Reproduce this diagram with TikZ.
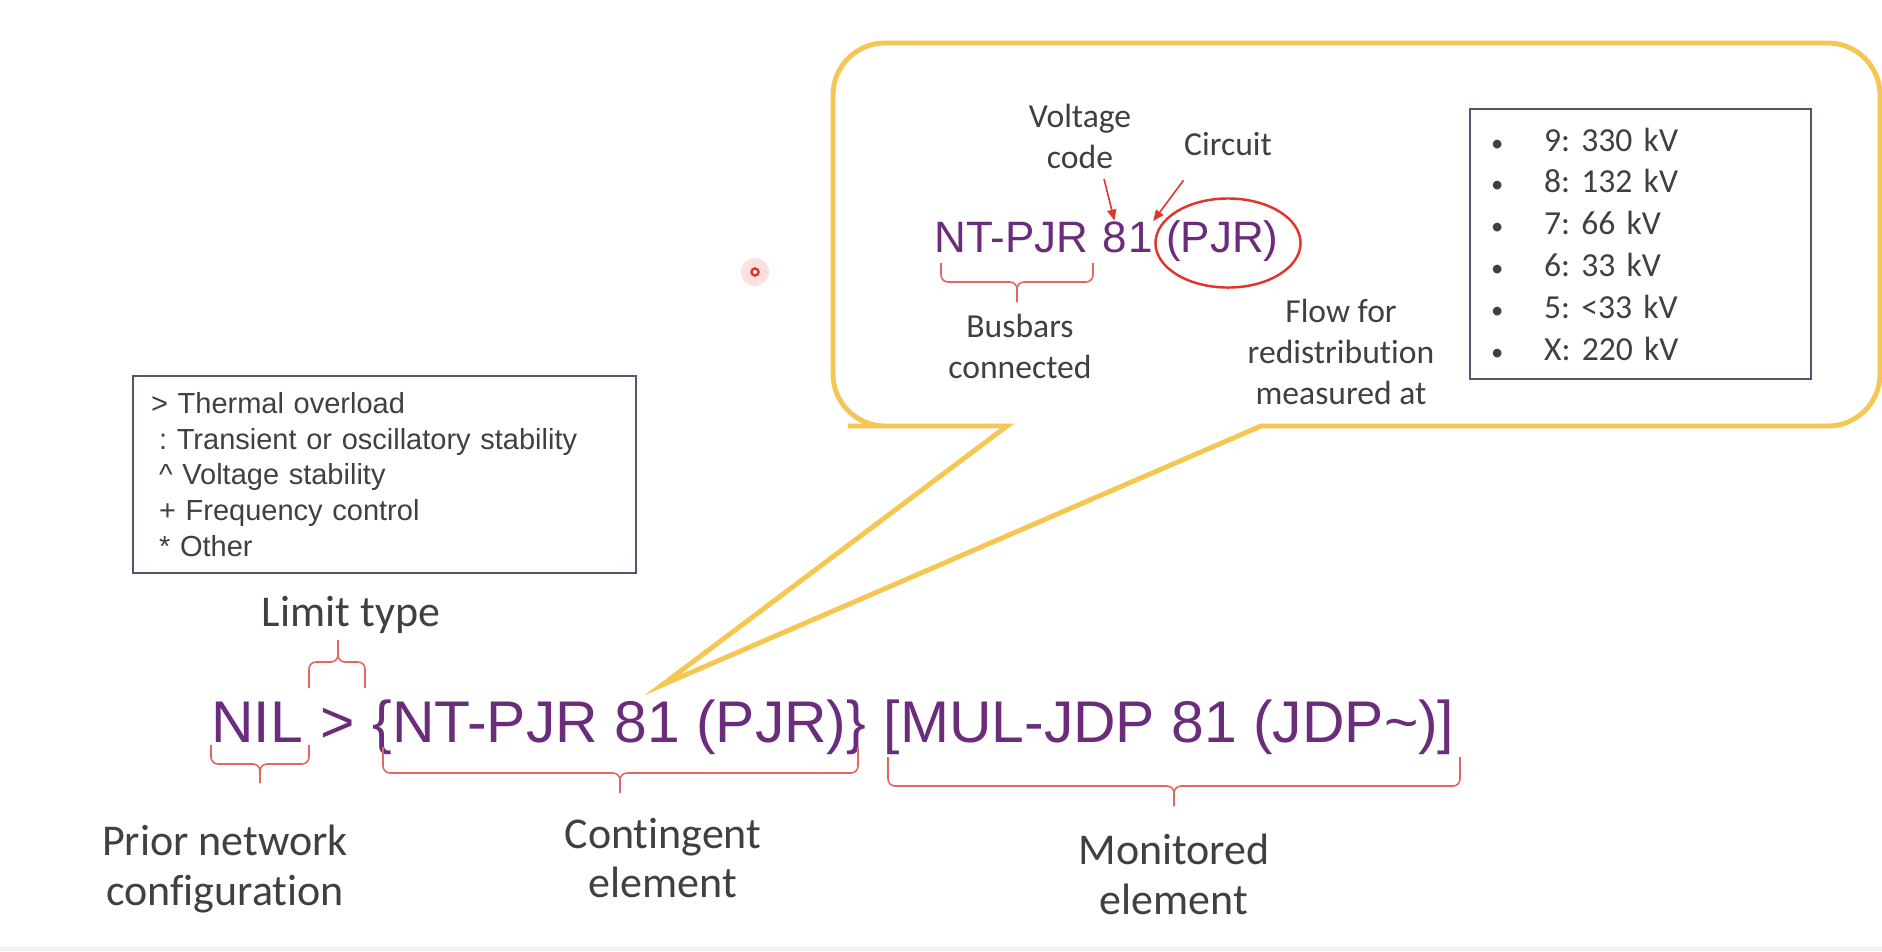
\documentclass[tikz,border=0pt]{standalone}
\usepackage{fontspec}
\setmainfont{Carlito}[Ligatures={NoCommon}]
\newfontfamily\arialfont{Liberation Sans}
\usetikzlibrary{arrows.meta,positioning,calc,shapes.geometric}
\definecolor{plum}{HTML}{6B2D7B}
\definecolor{ink}{HTML}{404040}
\definecolor{gold}{HTML}{F6C652}
\definecolor{salmon}{HTML}{E2665F}
\definecolor{alert}{HTML}{E3342B}
\definecolor{frame}{HTML}{5E5070}
\tikzset{codetext/.style={inner sep=0pt,text=plum,font=\arialfont\fontsize{12.5}{15}\selectfont},
  formtext/.style={inner sep=0pt,text=plum,font=\arialfont\fontsize{16.73}{20}\selectfont},
  smalltag/.style={inner sep=0pt,text=ink,align=center,font=\fontsize{9.56}{11.67}\selectfont},
  bigtag/.style={inner sep=0pt,text=ink,align=center,font=\fontsize{12.5}{14.2}\selectfont},
  listbox/.style={draw=frame,line width=0.6pt,inner ysep=0pt,align=left,text=ink,anchor=north west},
  pointer/.style={-{Triangle[length=1.1mm,width=0.9mm]},draw=alert,line width=0.45pt},
  bracestroke/.style={draw=salmon,line width=0.45pt,rounded corners=0.7mm}}
% x1, xtip, x2, yend, yflat, ytip
\newcommand{\curly}[6]{%
  \draw[bracestroke] (#1,#4) |- (#2,#5) -- (#2,#6);
  \draw[bracestroke] (#3,#4) |- (#2,#5) -- (#2,#6);}
\newcommand{\levelbullet}{\makebox[0.53cm][l]{\fontsize{7}{7}\selectfont\textbullet}}
\begin{document}
\frenchspacing
\begin{tikzpicture}[x=0.01cm,y=-0.01cm]
\useasboundingbox[fill=white] (0,0) rectangle (1882,951);
\fill[black!6] (0,947) rectangle (1882,951);
% callout
\draw[gold,line width=1.4pt,fill=white] (1300,426) [rounded corners=5.2mm] -- (1880,426) -- (1880,43)
  -- (833,43) -- (833,426) -- (900,426) [sharp corners] -- (1007,426) -- (662,685) -- (1261,426) -- cycle;
\fill[red,opacity=0.12] (755,272) circle (0.14cm);
\draw[alert,line width=0.7pt,fill=white] (755,272) circle (0.035cm);
% code inside the callout
\node[codetext,anchor=base west] (bus) at (934,252) {NT-PJR};
\node[codetext,base right=0.122cm of bus] (eight) {8};
\node[codetext,base right=0pt of eight] (one) {1};
\node[codetext,base right=0.122cm of one] (pjr) {(PJR)};
\node[draw=alert,ellipse,line width=0.7pt,minimum width=1.45cm,minimum height=0.89cm,inner sep=0pt] (ring) at (1228,243) {};
\node[smalltag] (vlab) at (1080,136) {Voltage\\code};
\node[smalltag] (clab) at (1228,144) {Circuit};
\node[smalltag] (blab) at (1020,346) {Busbars\\connected};
\node[smalltag] (flab) at (1341,352) {Flow for\\redistribution\\measured at};
\draw[pointer] ($(vlab.south)+(24,10)$) -- (eight.north);
\draw[pointer] ($(clab.south west)+(0,24)$) -- (one.north east);
\curly{941}{1017}{1093}{263}{282}{302}
\node[listbox,text width=2.99cm,inner xsep=0.21cm,minimum height=2.70cm,font=\fontsize{9.56}{11.9}\selectfont] (levels) at (1469,108)
  {\levelbullet9: 330 kV\\
   \levelbullet8: 132 kV\\
   \levelbullet7: 66 kV\\
   \levelbullet6: 33 kV\\
   \levelbullet5: <33 kV\\
   \levelbullet X: 220 kV};
% limit types
\node[listbox,text width=4.67cm,inner xsep=0.18cm,minimum height=1.97cm,font=\arialfont\fontsize{8.25}{10.1}\selectfont] (limits) at (132,375)
  {> Thermal overload\\
   \hspace*{0.08cm}: Transient or oscillatory stability\\
   \hspace*{0.08cm}\textasciicircum{} Voltage stability\\
   \hspace*{0.08cm}+ Frequency control\\
   \hspace*{0.08cm}* Other};
% the constraint equation
\node[formtext,anchor=base west] (nil) at (210.5,742) {NIL};
\node[formtext,base right=0.163cm of nil] (gt) {>};
\node[formtext,base right=0.163cm of gt] (cont) {\{NT-PJR 81 (PJR)\}};
\node[formtext,base right=0.163cm of cont] (mon) {[MUL-JDP 81 (JDP\textasciitilde)]};
\curly{211}{260}{309}{745}{764}{783}
\curly{309}{338}{365}{688}{662}{640}
\curly{383}{620}{858}{747}{773}{793}
\curly{888}{1174}{1460}{757}{786}{806}
\node[bigtag] (ltlab) at (351,615) {Limit type};
\node[bigtag] (plab) at (225,869) {Prior network\\configuration};
\node[bigtag] (conlab) at (663,858) {Contingent\\element};
\node[bigtag] (mlab) at (1174,874) {Monitored\\element};
\end{tikzpicture}
\end{document}
